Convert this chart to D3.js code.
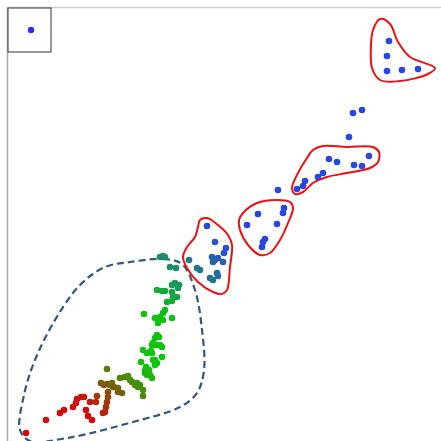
<!DOCTYPE html>
<html>
<head>
<meta charset="utf-8">
<script src="https://cdn.jsdelivr.net/npm/d3@7"></script>
<style>
  body { margin: 0; background: #fff; }
  svg { display: block; }
</style>
</head>
<body>
<div id="chart"></div>
<script>
// point data, one array per cluster, [x, y]
var lowGroup = [
  [18,8],[38,21],[52,28],[56,31],[65,34],[68,38],[69,42],[73,44],[76,44],
  [78,31],[80,25],[84,21],[82,39],[88,39],[89,45],
  [99,72],[93,58],[96,56],[99,57],[102,56],[104,58],[106,54],[100,49],[100,44],
  [99,39],[98,34],[97,29],[95,28],[110,53],[114,48],[105,54],[110,49],
  [112,63],[117,64],[122,61],[129,58],[132,56],[135,51],[135,45],[120,65],
  [124,59],[127,56],[130,54],
  [139,66],[137,71],[142,66],[144,63],[140,71],[138,74],[141,71],[137,68],
  [133,79],[147,81],[149,78],[145,81],[147,76],[135,91],[139,88],[144,88],
  [143,90],[154,84],[144,96],[152,96],[147,103],[149,106],[151,104],[145,98],
  [148,96],[154,94],
  [136,127],[147,123],[152,124],[155,128],[157,131],[164,123],[150,118],[155,121],
  [149,151],[154,150],[157,150],[164,156],[167,158],[171,156],[170,153],[164,149],
  [165,144],[164,140],[159,139],[169,144],
  [152,184],[155,185],[157,184],[162,174],[168,173]
];
var group1 = [
  [181,181],[189,173],[192,171],[202,163],[205,161],[209,168],[210,165],
  [204,184],[207,181],[210,183],[205,179],[215,179],[216,188],[218,193],
  [207,199],[199,215]
];
var group2 = [
  [250,227],[276,233],[275,228],[239,216],[269,217],[257,202],[255,199],[254,194]
];
var group3 = [
  [289,252],[295,255],[297,260],[310,264],[315,268],[321,282],[329,279],
  [346,276],[354,275],[361,285]
];
var strays = [[270,251],[341,304],[345,328],[354,331]];
var group4 = [[381,400],[379,385],[379,370],[394,371],[410,372]];

// enclosure outlines (control points)
var outlineLow = [
  [122,179],[155,182],[174,177],[187,151],[194,111],[196,71],[189,48],[172,34],
  [125,19],[59,3],[22,0],[12,11],[16,46],[27,81],[47,121],[72,156],[97,174]
];
var outline1 = [
  [192,221],[199,223],[210,216],[220,206],[224,196],[222,174],[219,151],[214,147],
  [205,149],[190,159],[179,173],[175,184],[179,194],[187,204],[190,214]
];
var outline2 = [
  [235,228],[249,238],[269,241],[282,239],[285,233],[280,218],[272,201],[262,188],
  [252,186],[240,196],[232,211],[231,221]
];
var outline3 = [
  [305,291],[315,295],[339,294],[365,294],[371,289],[370,279],[362,273],[339,268],
  [319,264],[305,258],[295,249],[287,247],[284,253],[289,266],[299,283]
];
var outline4 = [
  [365,411],[372,422],[382,417],[390,399],[402,384],[427,373],[420,367],[392,360],
  [372,361],[364,373],[363,396]
];

var w = 441;
var h = 441;

var svg = d3.select("#chart")
  .append("svg")
  .attr("width", w)
  .attr("height", h);

var x = d3.scaleLinear().domain([0, 433]).range([8, 441]);
var y = d3.scaleLinear().domain([0, 433]).range([441, 8]);

// colour runs red -> green -> blue along the diagonal
var color = d3.scaleLinear()
  .domain([110, 215, 275, 420])
  .range(["#d20a0a", "#0ec40e", "#0ec40e", "#2a46e0"])
  .clamp(true);

// frame
svg.append("line")
  .attr("x1", 7.5).attr("x2", 7.5).attr("y1", 7.5).attr("y2", h)
  .attr("stroke", "#aaa").attr("stroke-width", 1.5);
svg.append("line")
  .attr("x1", 7.5).attr("x2", w).attr("y1", 7.5).attr("y2", 7.5)
  .attr("stroke", "#ccc").attr("stroke-width", 1.5);

var line = d3.line()
  .x(function (d) { return x(d[0]); })
  .y(function (d) { return y(d[1]); })
  .curve(d3.curveCatmullRomClosed.alpha(0.5));

svg.append("path")
  .attr("d", line(outlineLow))
  .attr("fill", "none")
  .attr("stroke", "#2f5888")
  .attr("stroke-width", 2.2)
  .attr("stroke-dasharray", "7,4");

[outline1, outline2, outline3, outline4].forEach(function (o) {
  svg.append("path")
    .attr("d", line(o))
    .attr("fill", "none")
    .attr("stroke", "#f01010")
    .attr("stroke-width", 2);
});

var points = lowGroup.concat(group1, group2, group3, strays, group4);

svg.selectAll("circle.pt")
  .data(points)
  .enter()
  .append("circle")
  .attr("class", "pt")
  .attr("cx", function (d) { return x(d[0]); })
  .attr("cy", function (d) { return y(d[1]); })
  .attr("r", 3.3)
  .attr("fill", function (d) { return color(d[0] + d[1]); });

// legend
var legend = svg.append("g");
legend.append("rect")
  .attr("x", 8).attr("y", 8)
  .attr("width", 43).attr("height", 44)
  .attr("fill", "#fff")
  .attr("stroke", "#555")
  .attr("stroke-width", 1.2);
legend.append("circle")
  .attr("cx", 31).attr("cy", 30)
  .attr("r", 3.2)
  .attr("fill", "#2a2aff");
</script>
</body>
</html>
